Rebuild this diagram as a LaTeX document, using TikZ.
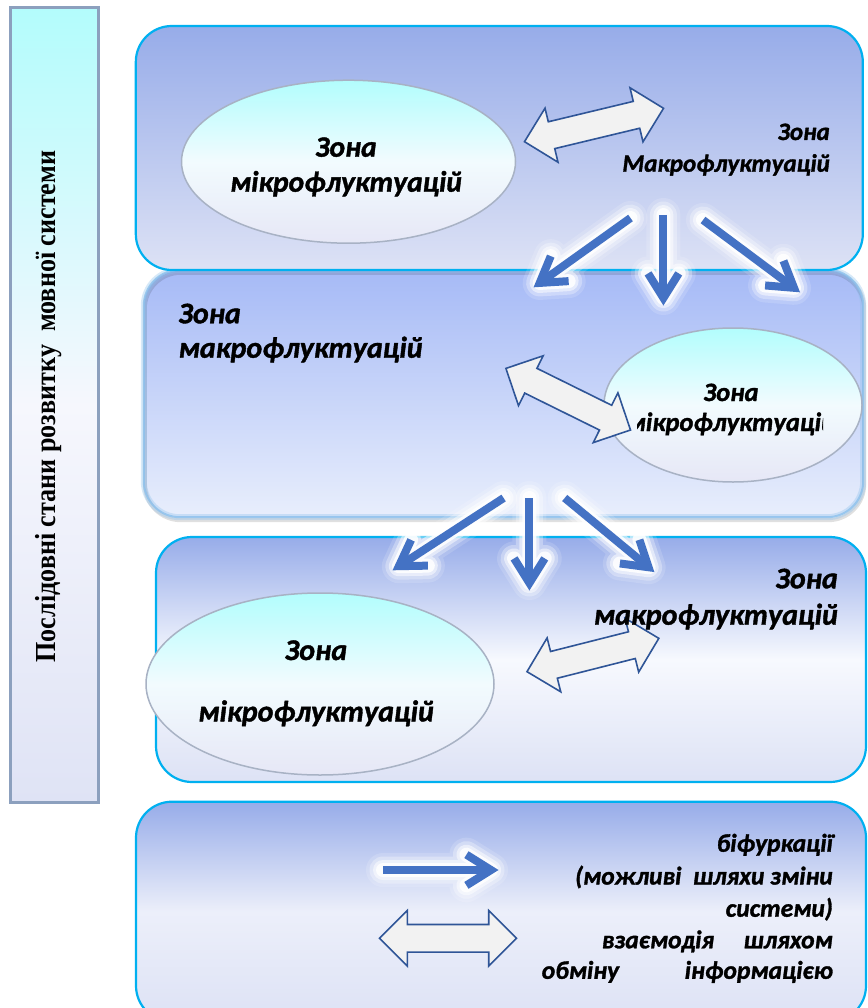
\documentclass[tikz,border=0pt]{standalone}
\usepackage{graphicx}
\usepackage{fontspec}
\setmainfont{Carlito}[BoldItalicFeatures={FakeBold=1.3}]
\newfontfamily\stagefont{Liberation Serif}
\usetikzlibrary{shapes.geometric,shapes.arrows,calc}

\definecolor{panelcyan}{RGB}{0,176,240}
\definecolor{panelTop}{RGB}{151,172,233}
\definecolor{panelBot}{RGB}{221,226,245}
\definecolor{softTop}{RGB}{166,186,246}
\definecolor{softBot}{RGB}{232,238,252}
\definecolor{softEdge}{RGB}{140,192,236}
\definecolor{paleMid}{RGB}{247,249,254}
\definecolor{legendMid}{RGB}{236,239,250}
\definecolor{ovalTop}{RGB}{178,253,253}
\definecolor{ovalMid}{RGB}{242,251,254}
\definecolor{ovalBot}{RGB}{230,231,246}
\definecolor{ovalEdge}{RGB}{168,178,196}
\definecolor{barTop}{RGB}{179,252,252}
\definecolor{barMid}{RGB}{246,247,253}
\definecolor{barBot}{RGB}{223,227,245}
\definecolor{barEdge}{RGB}{140,160,190}
\definecolor{flowBlue}{RGB}{68,114,196}
\definecolor{linkEdge}{RGB}{47,85,151}
\definecolor{linkFill}{RGB}{242,242,242}

\tikzset{
  panel/.style={rectangle, rounded corners=36pt, inner sep=0pt},
  framed/.style={draw=panelcyan, line width=2.2pt},
  oval/.style={ellipse, draw=ovalEdge, line width=1.5pt, inner sep=0pt,
    top color=ovalTop, bottom color=ovalBot, middle color=ovalMid},
  link/.style={double arrow, draw=linkEdge, fill=linkFill, line width=1.6pt,
    inner xsep=0pt, inner ysep=13pt, double arrow head extend=14pt,
    double arrow tip angle=90, minimum height=#1},
  zone/.style={font=\fontsize{30}{36}\selectfont\bfseries\itshape, inner sep=0pt},
  zonemid/.style={font=\fontsize{29.5}{36}\selectfont\bfseries\itshape, inner sep=0pt},
  zonesmall/.style={font=\fontsize{26.5}{32}\selectfont\bfseries\itshape, inner sep=0pt},
  zoneright/.style={font=\fontsize{25}{32}\selectfont\bfseries\itshape, inner sep=0pt},
  legendtext/.style={font=\fontsize{25.5}{32}\selectfont\bfseries\itshape, inner sep=0pt, anchor=base east},
}

% thick blue arrow with an open head and a soft white halo
\newcommand\flowarrow[2]{%
  \coordinate (fa-v) at ($(#2)!7pt!(#1)$);
  \coordinate (fa-l) at ($(fa-v)!29pt!32:(#1)$);
  \coordinate (fa-r) at ($(fa-v)!29pt!-32:(#1)$);
  \foreach \w/\o in {34/0.15,27/0.3,20/0.5,14/0.85}
    \draw[white, opacity=\o, line width=\w pt, line cap=round, line join=round]
      (#1) -- (fa-v) (fa-l) -- (fa-v) -- (fa-r);
  \draw[flowBlue, line width=8pt] (#1) -- (fa-v);
  \draw[flowBlue, line width=8pt, line join=miter] (fa-l) -- (fa-v) -- (fa-r);
}

\begin{document}
\begin{tikzpicture}[x=1pt, y=-1pt]
\clip (0,0) rectangle (867,1008);
\fill[white] (0,0) rectangle (867,1008);

% vertical caption bar
\node[rectangle, draw=barEdge, line width=3pt, minimum width=88, minimum height=794,
  top color=barTop, bottom color=barBot, middle color=barMid] (bar) at (54,405) {};
\node[rotate=90, anchor=base, inner sep=0pt] (stagelabel) at (55,406.5)
  {\stagefont\bfseries\fontsize{29}{29}\selectfont\scalebox{0.9}[1]{Послідовні стани розвитку\ \ мовної системи}};

% second state (soft edged)
\node[panel, minimum width=719, minimum height=247,
  top color=softTop, bottom color=softBot] (p2) at (503.5,393.5) {};
\draw[black, opacity=0.12, line width=4pt, rounded corners=36pt]
  ($(p2.north west)+(1,3)$) rectangle ($(p2.south east)+(1,3)$);
\draw[softEdge, opacity=0.35, line width=6pt, rounded corners=36pt]
  (p2.north west) rectangle (p2.south east);
\draw[softEdge, opacity=0.8, line width=2pt, rounded corners=36pt]
  (p2.north west) rectangle (p2.south east);

% first state
\node[panel, framed, minimum width=727, minimum height=244,
  top color=panelTop, bottom color=panelBot] (p1) at (499.3,148) {};

% third state
\node[panel, framed, minimum width=710, minimum height=245,
  top color=panelTop, bottom color=panelBot, middle color=paleMid] (p3) at (511,659.5) {};

% legend
\node[panel, framed, minimum width=730, minimum height=220,
  top color=panelTop, bottom color=panelBot, middle color=legendMid] (p4) at (501,911.7) {};

% micro-fluctuation zones
\node[oval, minimum width=334, minimum height=163] (e1) at (348.5,161.7) {};
\node[oval, minimum width=258, minimum height=154] (e2) at (733,405) {};
\node[oval, minimum width=348, minimum height=182] (e3) at (320,684) {};

% information exchange arrows
\node[link=143, rotate=13.5] (x1) at (594,125) {};
\node[link=139, rotate=-26.3] (x2) at (568.2,399.2) {};
\node[link=136, rotate=14.2] (x3) at (592.9,655) {};
\node[link=137] (x4) at (448,938.3) {};

% labels of the first state
\node[zonemid, anchor=base] (e1a) at (346,156.7) {Зона};
\node[zonemid, anchor=base] (e1b) at (346,191.7) {мікрофлуктуацій};
\node[zoneright, anchor=base east] (p1a) at (830,140) {Зона};
\node[zoneright, anchor=base east] (p1b) at (830,171.7) {Макрофлуктуацій};

% labels of the second state
\node[zone, anchor=base west] (p2a) at (178.3,323.3) {Зона};
\node[zone, anchor=base west] (p2b) at (178.3,357.7) {макрофлуктуацій};
\begin{scope}
  \clip (637,365) rectangle (823,445);
  \node[zonesmall, anchor=base] (e2a) at (731,401) {Зона};
  \node[zonesmall, anchor=base] (e2b) at (731,431) {мікрофлуктуацій};
\end{scope}

% labels of the third state
\node[zone, anchor=base east] (p3a) at (838,588.3) {Зона};
\node[zone, anchor=base east] (p3b) at (838,624.7) {макрофлуктуацій};
\node[zone, anchor=base] (e3a) at (316,660) {Зона};
\node[zone, anchor=base] (e3b) at (316,721.4) {мікрофлуктуацій};

% legend text
\node[legendtext] (lg1) at (833,851.7) {біфуркації};
\node[legendtext] (lg2) at (833,884.5) {(можливі\ \ шляхи зміни};
\node[legendtext] (lg3) at (833,916.7) {системи)};
\node[legendtext] (lg4) at (833,948.3) {\makebox[231pt][s]{взаємодія\hfill шляхом}};
\node[legendtext] (lg5) at (833,978.8) {\makebox[291pt][s]{обміну\hfill інформацією}};

% bifurcation arrows
\coordinate (b1s) at (630.5,218); \coordinate (b1t) at (534,287);
\coordinate (b2s) at (663.4,215); \coordinate (b2t) at (663.4,305);
\coordinate (b3s) at (703,220);   \coordinate (b3t) at (799.6,292);
\coordinate (c1s) at (503.6,498); \coordinate (c1t) at (393,570);
\coordinate (c2s) at (529.4,498); \coordinate (c2t) at (529.4,590);
\coordinate (c3s) at (564.7,498); \coordinate (c3t) at (654,571.7);
\coordinate (l1s) at (383,870);   \coordinate (l1t) at (498,870);
\flowarrow{b1s}{b1t}
\flowarrow{b2s}{b2t}
\flowarrow{b3s}{b3t}
\flowarrow{c1s}{c1t}
\flowarrow{c2s}{c2t}
\flowarrow{c3s}{c3t}
\flowarrow{l1s}{l1t}
\end{tikzpicture}
\end{document}
